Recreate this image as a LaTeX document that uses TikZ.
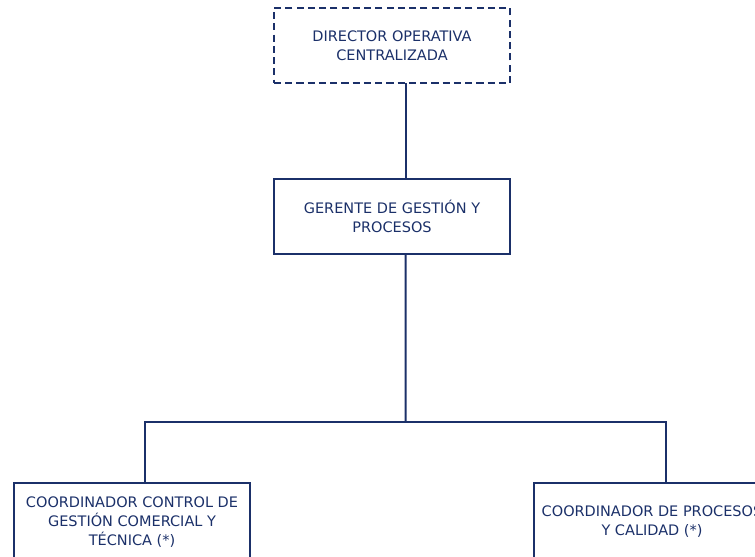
\documentclass[tikz,border=0pt]{standalone}
\usepackage{fontspec}
\setmainfont{DejaVu Sans}
\definecolor{navy}{RGB}{27,48,105}
\begin{document}
\begin{tikzpicture}[x=0.025cm,y=-0.025cm,
    puesto/.style={draw=navy,line width=1.4pt,text=navy,align=center,
      minimum width=5.9cm,minimum height=1.875cm,inner sep=2pt,
      font=\fontsize{10.3}{13.6}\selectfont},
    externo/.style={puesto,dashed,dash pattern=on 5pt off 3pt},
    linea/.style={draw=navy,line width=1.4pt,line cap=rect}]
      \useasboundingbox (0,0) rectangle (755,557);
      \path
        (392,45.5) node[externo] (dir){DIRECTOR OPERATIVA\\CENTRALIZADA}
        (392,216.5) node[puesto] (ger){GERENTE DE GESTIÓN Y\\PROCESOS}
        (132,522) node[puesto,minimum height=1.95cm] (coma){COORDINADOR CONTROL DE\\GESTIÓN COMERCIAL Y\\TÉCNICA (*)}
        (652,522) node[puesto,minimum height=1.95cm] (proc){COORDINADOR DE PROCESOS\\Y CALIDAD (*)};
      \coordinate (bus) at (405.6,422);
      \begin{scope}[linea]
        \draw ([xshift=3.4mm]dir.south) to ([xshift=3.4mm]ger.north);
        \draw ([xshift=3.4mm]ger.south) to (bus);
        \draw ([xshift=3.3mm]coma.north) |- (bus) -| ([xshift=3.5mm]proc.north);
      \end{scope}
    \end{tikzpicture}
\end{document}
